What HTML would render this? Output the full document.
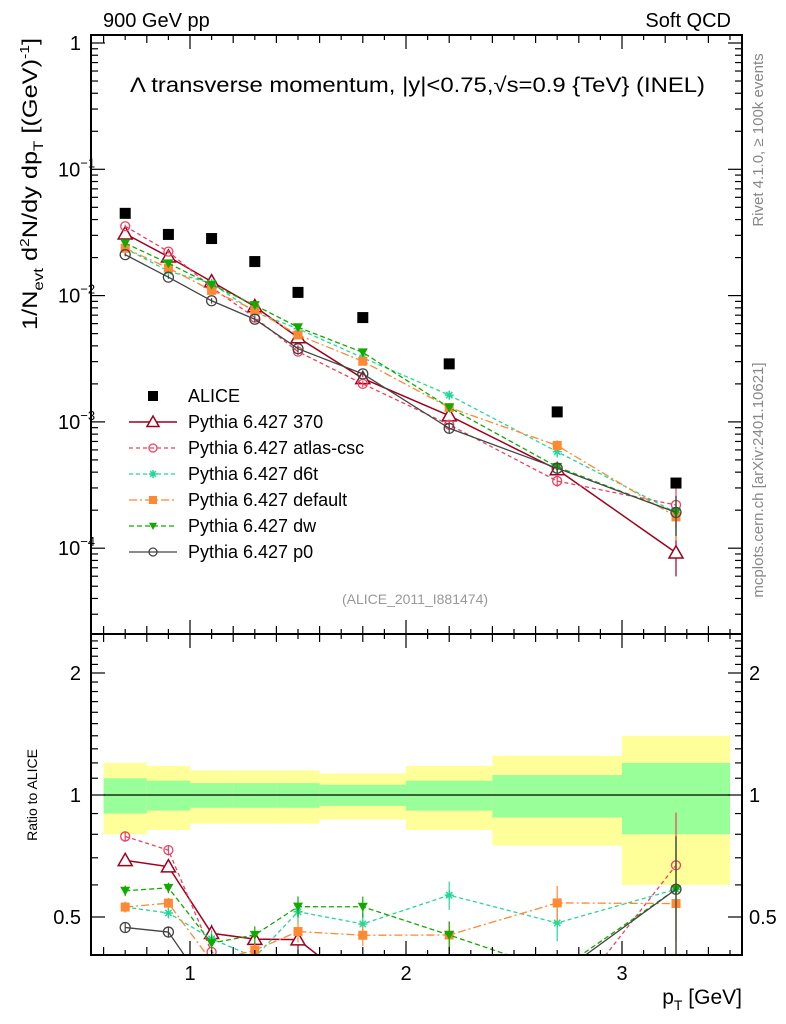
<!DOCTYPE html>
<html><head><meta charset="utf-8"><style>
html,body{margin:0;padding:0;background:#fff;width:786px;height:1024px;overflow:hidden;}
svg{display:block;font-family:"Liberation Sans",sans-serif;}
</style></head><body>
<svg id="c" width="786" height="1024" viewBox="0 0 786 1024">
<defs>
<clipPath id="cm"><rect x="91" y="35" width="651" height="599"/></clipPath>
<clipPath id="cr"><rect x="91" y="634" width="651" height="321"/></clipPath>
</defs>
<text x="103" y="27" font-size="20">900 GeV pp</text>
<text x="731" y="27" font-size="20" text-anchor="end">Soft QCD</text>
<text x="130" y="92" font-size="21" textLength="575" lengthAdjust="spacingAndGlyphs">Λ transverse momentum, |y|&lt;0.75,√s=0.9 {TeV} (INEL)</text>
<text x="415" y="604" font-size="14" fill="#999" text-anchor="middle">(ALICE_2011_I881474)</text>
<text transform="translate(763,140) rotate(-90)" font-size="15" fill="#888" text-anchor="middle">Rivet 4.1.0, ≥ 100k events</text>
<text transform="translate(763,480) rotate(-90)" font-size="15" fill="#888" text-anchor="middle">mcplots.cern.ch [arXiv:2401.10621]</text>
<text transform="translate(37,330) rotate(-90)" font-size="21" textLength="292" lengthAdjust="spacingAndGlyphs">1/N<tspan font-size="14" dy="6">evt</tspan><tspan dy="-6">  d</tspan><tspan font-size="13" dy="-8">2</tspan><tspan dy="8">N/dy dp</tspan><tspan font-size="14" dy="6">T</tspan><tspan dy="-6"> [(GeV)</tspan><tspan font-size="13" dy="-8">-1</tspan><tspan dy="8">]</tspan></text>
<text transform="translate(37,795) rotate(-90)" font-size="14" text-anchor="middle">Ratio to ALICE</text>
<text x="742" y="1004" font-size="21" text-anchor="end">p<tspan font-size="14" dy="6">T</tspan><tspan dy="-6"> [GeV]</tspan></text>
<g id="g"></g>
</svg>
<script>
const pts=[0.7,0.9,1.1,1.3,1.5,1.8,2.2,2.7,3.25];
const binEdges=[0.6,0.8,1.0,1.2,1.4,1.6,2.0,2.4,3.0,3.5];
const alice=[0.0448,0.0305,0.0283,0.0186,0.0106,0.0067,0.00288,0.0012,0.000328];
const totErr=[0.2,0.18,0.15,0.15,0.15,0.13,0.18,0.25,0.4];
const statErr=[0.1,0.085,0.07,0.07,0.07,0.06,0.085,0.12,0.2];
const m370=[0.0309,0.0203,0.0129,0.0082,0.00466,0.00221,0.00112,0.00042,0.000092];
const mAtlas=[0.0354,0.0223,0.0116,0.0067,0.0036,0.0020,0.00095,0.00034,0.00022];
const mD6t=[0.0237,0.0156,0.0125,0.0074,0.00546,0.00322,0.00163,0.00058,0.000192];
const mDefault=[0.0237,0.0165,0.0110,0.0077,0.00488,0.00302,0.0013,0.00065,0.000177];
const mDw=[0.026,0.018,0.0122,0.0084,0.00562,0.00355,0.0013,0.00044,0.000192];
const mP0=[0.0211,0.0140,0.0091,0.0065,0.0038,0.0024,0.00089,0.00043,0.000192];
const modelErr=[0.03,0.03,0.05,0.05,0.06,0.06,0.08,0.1,0.35];
const yTicksMain=["1","10","10","10","10"];
const yTickExp=["","−1","−2","−3","−4"];
const xTickLabels=["1","2","3"];
const ratioTickLabels=["2","1","0.5"];

const NS="http://www.w3.org/2000/svg";
const G=document.getElementById('g');
function mk(t,a,p){const e=document.createElementNS(NS,t);for(const k in a)e.setAttribute(k,a[k]);(p||G).appendChild(e);return e;}
const X=p=>190+(p-1)*216;
const Y=v=>43-126.3*Math.log10(v);
const R=r=>795-122*Math.log2(r);
const L=91,Rt=742,T=35,M=634,B=955;

binEdges.slice(0,-1).forEach((e,i)=>{
 const x0=X(e),x1=X(binEdges[i+1]);
 const b=mk('rect',{x:x0,y:R(1+totErr[i]),width:x1-x0,height:R(1-totErr[i])-R(1+totErr[i]),fill:'#ffff99'});
 
 
 const s=mk('rect',{x:x0,y:R(1+statErr[i]),width:x1-x0,height:R(1-statErr[i])-R(1+statErr[i]),fill:'#99ff99'});
 
 
});
mk('line',{x1:X(0.6),x2:X(3.5),y1:R(1),y2:R(1),stroke:'#000','stroke-width':1.2});

function marker(p,type,x,y,col,s){
 let e;
 if(type==='tri'){e=mk('path',{d:`M${x},${y-s} L${x+s},${y+s*0.75} L${x-s},${y+s*0.75}Z`,fill:'#fff',stroke:col,'stroke-width':1.5},p);}
 else if(type==='circ'){e=mk('circle',{cx:x,cy:y,r:s,fill:'none',stroke:col,'stroke-width':1.3},p);}
 else if(type==='star'){e=mk('path',{d:`M${x-s},${y}H${x+s}M${x},${y-s}V${y+s}M${x-s*.7},${y-s*.7}L${x+s*.7},${y+s*.7}M${x-s*.7},${y+s*.7}L${x+s*.7},${y-s*.7}`,stroke:col,'stroke-width':1.5},p);}
 else if(type==='sq'){e=mk('rect',{x:x-s,y:y-s,width:2*s,height:2*s,fill:col},p);}
 else if(type==='dtri'){e=mk('path',{d:`M${x-s},${y-s*0.8} L${x+s},${y-s*0.8} L${x},${y+s}Z`,fill:col},p);}
 return e;
}
const series=[
 {name:'370',vals:m370,col:'#a0001e',dash:'',mk:'tri',s:7,w:1.5},
 {name:'atlas-csc',vals:mAtlas,col:'#f04060',dash:'4,3',mk:'circ',s:4.5,w:1.3},
 {name:'d6t',vals:mD6t,col:'#22d899',dash:'4,3',mk:'star',s:4.5,w:1.3},
 {name:'default',vals:mDefault,col:'#ff8833',dash:'8,3,2,3',mk:'sq',s:4.5,w:1.3},
 {name:'dw',vals:mDw,col:'#11aa00',dash:'5,3',mk:'dtri',s:5,w:1.3},
 {name:'p0',vals:mP0,col:'#444',dash:'',mk:'circ',s:5,w:1.3}
];
const gm=mk('g',{'clip-path':'url(#cm)'});
const gr=mk('g',{'clip-path':'url(#cr)'});
series.forEach(sr=>{
 const line=mk('polyline',{points:sr.vals.map((v,i)=>X(pts[i])+','+Y(v)).join(' '),fill:'none',stroke:sr.col,'stroke-width':sr.w,'stroke-dasharray':sr.dash},gm);
 
 
 const rl=mk('polyline',{points:sr.vals.map((v,i)=>X(pts[i])+','+R(v/alice[i])).join(' '),fill:'none',stroke:sr.col,'stroke-width':sr.w,'stroke-dasharray':sr.dash},gr);
 
 
 sr.vals.forEach((v,i)=>{
  const x=X(pts[i]),e=modelErr[i];
  mk('line',{x1:x,x2:x,y1:Y(v*(1+e)),y2:Y(v*(1-e)),stroke:sr.col,'stroke-width':1.2},gm);
  const m=marker(gm,sr.mk,x,Y(v),sr.col,sr.s);
  
  
  const r=v/alice[i];
  mk('line',{x1:x,x2:x,y1:R(r*(1+e)),y2:R(r*(1-e)),stroke:sr.col,'stroke-width':1.2},gr);
  const m2=marker(gr,sr.mk,x,R(r),sr.col,sr.s);
  
  
 });
});
alice.forEach((v,i)=>{
 const m=mk('rect',{x:X(pts[i])-5.5,y:Y(v)-5.5,width:11,height:11,fill:'#000'});
 
 
});

mk('rect',{x:L,y:T,width:Rt-L,height:M-T,fill:'none',stroke:'#000','stroke-width':2});
mk('rect',{x:L,y:M,width:Rt-L,height:B-M,fill:'none',stroke:'#000','stroke-width':2});
for(let k=6;k<=35;k++){
 const p=k/10,x=X(p),maj=k%10===0,len=maj?14:(k%2===0?8:5);
 [[T,1],[M,-1],[M,1],[B,-1]].forEach(([y0,d])=>mk('line',{x1:x,x2:x,y1:y0,y2:y0+d*len,stroke:'#000','stroke-width':1.2}));
}
xTickLabels.forEach((t,i)=>{const e=mk('text',{x:X(i+1),y:980,'font-size':20,'text-anchor':'middle'});e.textContent=t;
 
 });
for(let d=0;d>=-5;d--){
 for(let m=1;m<10;m++){
  const v=m*Math.pow(10,d),y=Y(v);
  if(y<T||y>M)continue;
  const len=m===1?14:7;
  mk('line',{x1:L,x2:L+len,y1:y,y2:y,stroke:'#000','stroke-width':1.2});
  mk('line',{x1:Rt,x2:Rt-len,y1:y,y2:y,stroke:'#000','stroke-width':1.2});
 }
}
yTicksMain.forEach((t,i)=>{
 const e=mk('text',{x:i===0?81:58,y:Y(Math.pow(10,-i))+7,'font-size':20,'text-anchor':i===0?'end':'start'});
 e.textContent=t;
 if(yTickExp[i]){const s=mk('tspan',{'font-size':13,dy:-9},e);s.textContent=yTickExp[i];}
 
 
});
[0.4,0.5,0.6,0.7,0.8,0.9,1,1.1,1.2,1.3,1.4,1.5,1.6,1.7,1.8,1.9,2,2.1,2.2,2.3,2.4,2.5].forEach(v=>{
 const y=R(v);if(y<M||y>B)return;const maj=[0.5,1,2].includes(v);const len=maj?14:7;
 mk('line',{x1:L,x2:L+len,y1:y,y2:y,stroke:'#000','stroke-width':1.2});
 mk('line',{x1:Rt,x2:Rt-len,y1:y,y2:y,stroke:'#000','stroke-width':1.2});
});
ratioTickLabels.forEach(t=>{
 const y=R(parseFloat(t))+7;
 const a=mk('text',{x:81,y:y,'font-size':20,'text-anchor':'end'});a.textContent=t;
 
 
 const b=mk('text',{x:749,y:y,'font-size':20});b.textContent=t;
 
 
});
const lg=mk('g',{});


const rows=[{label:'ALICE'}].concat(series.map(s=>({label:'Pythia 6.427 '+s.name,s:s})));
rows.forEach((r,i)=>{
 const y=396+i*26;
 const eg=mk('g',{},lg);
 
 
 if(!r.s){mk('rect',{x:148,y:y-5,width:10,height:10,fill:'#000'},eg);}
 else{mk('line',{x1:129,x2:177,y1:y,y2:y,stroke:r.s.col,'stroke-width':r.s.w,'stroke-dasharray':r.s.dash},eg);
  marker(eg,r.s.mk,153,y,r.s.col,r.s.mk==='tri'?6:4);}
 const t=mk('text',{x:188,y:y+6,'font-size':18},eg);t.textContent=r.label;
});
</script>
</body></html>
